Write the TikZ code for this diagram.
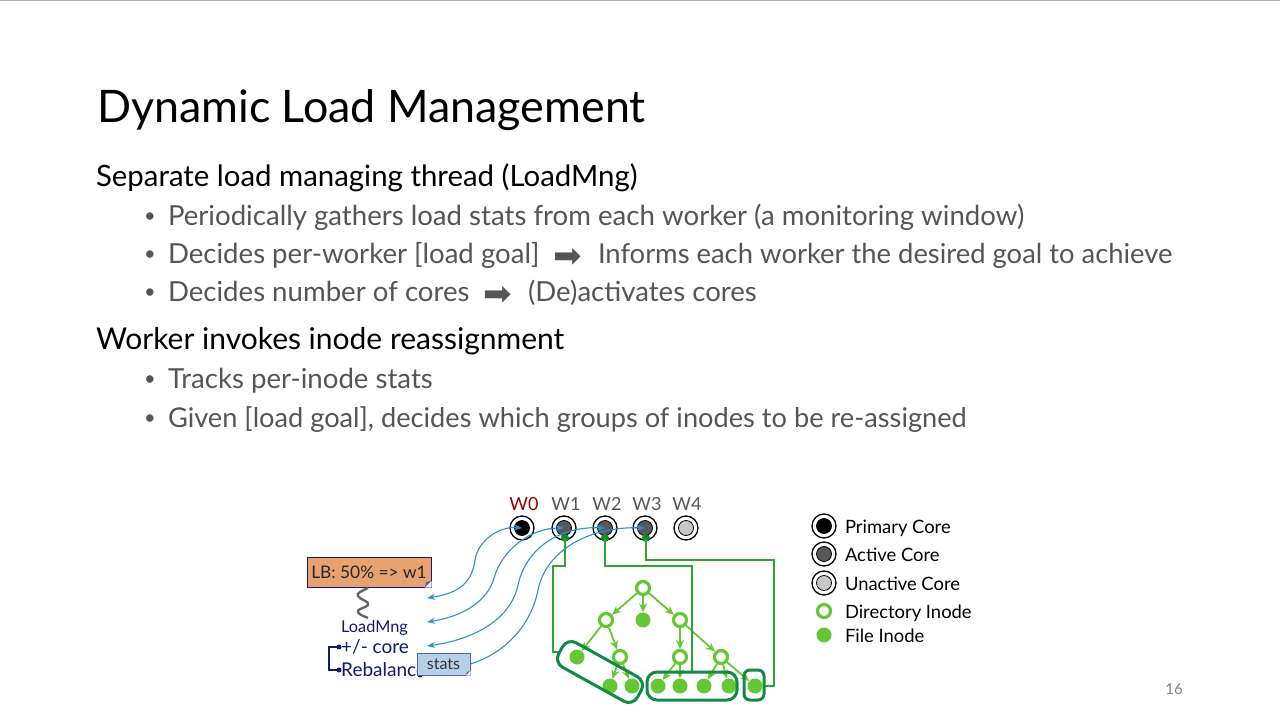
\documentclass[tikz,border=0pt]{standalone}
\usepackage{fontspec}
\setmainfont{Lato}
\newfontfamily\symfont{DejaVu Sans}
\usetikzlibrary{arrows.meta}
\definecolor{subgray}{HTML}{555555}
\definecolor{navy}{HTML}{101A6E}
\definecolor{blueline}{HTML}{2A8FDB}
\definecolor{lgreen}{HTML}{66C736}
\definecolor{mgreen}{HTML}{2FA52F}
\definecolor{dgreen}{HTML}{0F8F1F}
\definecolor{groupgreen}{HTML}{128A45}
\definecolor{lborange}{HTML}{E8A272}
\definecolor{statsblue}{HTML}{B5D0E8}
\newcommand{\fs}[1]{\fontsize{#1}{#1}\selectfont}
\tikzset{
  txt/.style={anchor=base west,inner sep=0,outer sep=0},
  titletxt/.style={txt,font=\fs{44.8}},
  headtxt/.style={txt,font=\fs{29.4},text=black},
  subtxt/.style={txt,font=\fs{27.6},text=subgray},
  bullettxt/.style={txt,font=\fs{20},text=subgray},
  arrowtxt/.style={txt,font=\symfont\fs{34},text=subgray},
  legtxt/.style={txt,font=\fs{18.4},text=black},
  wtxt/.style={anchor=base,inner sep=0,font=\fs{18},text=subgray},
  coreouter/.style={circle,draw=black,line width=1.3pt,fill=white,minimum size=24pt,inner sep=0},
  coreinner/.style={circle,draw=black,line width=.8pt,minimum size=15pt,inner sep=0},
  dirnode/.style={circle,draw=lgreen,line width=3.2pt,fill=white,minimum size=13pt,inner sep=0},
  filenode/.style={circle,fill=lgreen,minimum size=15pt,inner sep=0},
  treeedge/.style={draw=lgreen,line width=1.8pt,-{Stealth[length=9pt,width=8pt]}},
  grouping/.style={draw=groupgreen,line width=3pt,rounded corners=10pt,inner sep=0},
  blink/.style={draw=blueline,line width=1.1pt},
  barrow/.style={blink,{Stealth[length=8pt,width=6pt]}-{Stealth[length=8pt,width=6pt]}},
  sarrow/.style={blink,-{Stealth[length=8pt,width=6pt]}},
  glink/.style={draw=mgreen,line width=1.6pt,rounded corners=0},
  gdot/.style={circle,fill=dgreen,minimum size=8pt,inner sep=0},
  notebox/.style={draw=navy,line width=.8pt,inner sep=0},
  navydot/.style={circle,fill=navy,minimum size=5pt,inner sep=0},
}
\begin{document}
\begin{tikzpicture}[x=1pt,y=-1pt]
\useasboundingbox (0,0) rectangle (1280,720);
\fill[white] (0,0) rectangle (1280,720);
\draw[gray!60,line width=1pt] (0,0.5) -- (1280,0.5);

\node[titletxt] (title) at (97,122) {Dynamic Load Management};
\node[headtxt] (h1) at (96,186) {Separate load managing thread (LoadMng)};
\node[bullettxt] (b1) at (144,222) {•};
\node[subtxt] (s1) at (168,225) {Periodically gathers load stats from each worker (a monitoring window)};
\node[bullettxt] (b2) at (144,260) {•};
\node[subtxt] (s2a) at (168,263) {Decides per-worker [load goal]};
\node[arrowtxt] (s2b) at (553,267) {➡};
\node[subtxt,font=\fs{27.4}] (s2c) at (598,263) {Informs each worker the desired goal to achieve};
\node[bullettxt] (b3) at (144,298) {•};
\node[subtxt] (s3a) at (168,301) {Decides number of cores};
\node[arrowtxt] (s3b) at (483,305) {➡};
\node[subtxt] (s3c) at (528,301) {(De)activates cores};
\node[headtxt,font=\fs{30}] (h2) at (96,349) {Worker invokes inode reassignment};
\node[bullettxt] (b4) at (144,385) {•};
\node[subtxt] (s4) at (168,388) {Tracks per-inode stats};
\node[bullettxt] (b5) at (144,424) {•};
\node[subtxt,font=\fs{27.2}] (s5) at (168,427) {Given [load goal], decides which groups of inodes to be re-assigned};
\node[anchor=base,inner sep=0,font=\fs{15},text=gray] (pg) at (1174,694) {16};

% worker labels
\node[wtxt,text=red!60!black] (w0) at (524,510) {W0};
\node[wtxt] (w1) at (566,510) {W1};
\node[wtxt] (w2) at (607,510) {W2};
\node[wtxt] (w3) at (647,510) {W3};
\node[wtxt] (w4) at (687,510) {W4};

% cores
\node[coreouter] (c0o) at (522,528) {};
\node[coreinner,fill=black] (c0) at (522,528) {};
\node[coreouter] (c1o) at (564,528) {};
\node[coreinner,fill=black!65] (c1) at (564,528) {};
\node[coreouter] (c2o) at (605,528) {};
\node[coreinner,fill=black!65] (c2) at (605,528) {};
\node[coreouter] (c3o) at (645,528) {};
\node[coreinner,fill=black!65] (c3) at (645,528) {};
\node[coreouter] (c4o) at (686,528) {};
\node[coreinner,fill=black!22] (c4) at (686,528) {};

% tree
\node[dirnode] (root) at (643,588) {};
\node[dirnode] (dl) at (606,620) {};
\node[filenode] (fm) at (643,620) {};
\node[dirnode] (dr) at (680,620) {};
\node[filenode] (f1) at (577,657) {};
\node[dirnode] (d1) at (620,657) {};
\node[dirnode] (d2) at (680,657) {};
\node[dirnode] (d3) at (721,657) {};
\node[filenode] (f2) at (610,686) {};
\node[filenode] (f3) at (632,686) {};
\node[filenode] (f4) at (658,686) {};
\node[filenode] (f5) at (680,686) {};
\node[filenode] (f6) at (704,686) {};
\node[filenode] (f7) at (729,686) {};
\node[filenode] (f8) at (755,686) {};
\foreach \a/\b in {root/dl,root/fm,root/dr,dl/f1,dl/d1,dr/d2,dr/d3,d1/f2,d1/f3,d2/f4,d2/f5,d3/f6,d3/f7,d3/f8}
  \draw[treeedge] (\a) -- (\b);

% green links
\node[gdot] (g1) at (565,538) {};
\node[gdot] (g2) at (605,538) {};
\node[gdot] (g3) at (646,538) {};
\coordinate (t1) at (558,652);
\coordinate (t2) at (692,673);
\coordinate (t3) at (764,686);
\draw[glink] (g1.center) -- (565,566) -- (553,566) -- (553,652) -- (t1);
\draw[glink] (g2.center) -- (605,566) -- (692,566) -- (t2);
\draw[glink] (g3.center) -- (646,560) -- (774,560) -- (774,686) -- (t3);

% groups
\node[grouping,rectangle,minimum width=90pt,minimum height=28pt,rotate=-29] (gp1) at (600,672) {};
\node[grouping,rectangle,minimum width=90pt,minimum height=28pt] (gp2) at (692,686) {};
\node[grouping,rectangle,minimum width=20pt,minimum height=30pt,rounded corners=6pt] (gp3) at (754,685) {};

% left side
\node[navydot] (d1c) at (420,675) {};
\node[notebox,fill=lborange,minimum width=124pt,minimum height=30pt,font=\fs{17.3},text=black!85] (lb) at (369,572) {LB: 50\% => w1};
\draw[gray!80!black,line width=2.4pt] (368,588) .. controls (362,591) and (356,593) .. (358,596) .. controls (360,600) and (370,601) .. (368,605) .. controls (366,608) and (356,609) .. (358,612) .. controls (359,615) and (364,616) .. (368,618);
\node[anchor=base west,inner sep=0,font=\fs{16.3},text=navy] (lm) at (341,632) {LoadMng};
\node[anchor=base west,inner sep=0,font=\fs{19},text=navy] (core) at (341,653) {+/- core};
\node[anchor=base west,inner sep=0,font=\fs{19},text=navy] (reb) at (341,676) {Rebalance};
\node[navydot] (d1a) at (339,647) {};
\node[navydot] (d1b) at (339,670) {};
\draw[navy,line width=1.6pt] (d1a.center) -- (329,647) -- (329,670) -- (d1b.center);
\node[notebox,draw=navy!70,fill=statsblue,minimum width=53pt,minimum height=22pt,font=\fs{16},text=black!80] (stats) at (443.5,664) {stats};

% dog ears
\fill[white] (431.5,587.5) -- (425,587.5) -- (431.5,581) -- cycle;
\fill[navy!70] (425,587) -- (426,582) -- (431,581) -- cycle;
\fill[white] (470.5,675.5) -- (466,675.5) -- (470.5,671) -- cycle;
\fill[navy!70] (466,675) -- (467,672) -- (470,671) -- cycle;

% blue links
\coordinate (a0) at (427,598);
\coordinate (a1) at (427,622);
\coordinate (a2) at (427,646);
\draw[barrow] (a0) .. controls (460,593) and (472,582) .. (475,560) .. controls (478,540) and (500,526) .. (c0.center);
\draw[barrow] (a1) .. controls (465,616) and (488,600) .. (494,578) .. controls (502,550) and (530,528) .. (c1.center);
\draw[barrow] (a2) .. controls (470,640) and (510,622) .. (518,585) .. controls (526,548) and (560,526) .. (c2.center);
\draw[sarrow] (stats.east) .. controls (500,655) and (530,630) .. (538,590) .. controls (546,550) and (590,526) .. (c3.center);

% legend
\node[coreouter] (l0o) at (824,526) {};
\node[coreinner,fill=black] (l0) at (824,526) {};
\node[coreouter] (l1o) at (824,554) {};
\node[coreinner,fill=black!65] (l1) at (824,554) {};
\node[coreouter] (l2o) at (824,583) {};
\node[coreinner,fill=black!22] (l2) at (824,583) {};
\node[dirnode] (l3) at (824,611) {};
\node[filenode] (l4) at (824,635) {};
\node[legtxt] (lt0) at (845,533) {Primary Core};
\node[legtxt] (lt1) at (845,561) {Active Core};
\node[legtxt] (lt2) at (845,590) {Unactive Core};
\node[legtxt] (lt3) at (845,618) {Directory Inode};
\node[legtxt] (lt4) at (845,642) {File Inode};
\end{tikzpicture}
\end{document}
